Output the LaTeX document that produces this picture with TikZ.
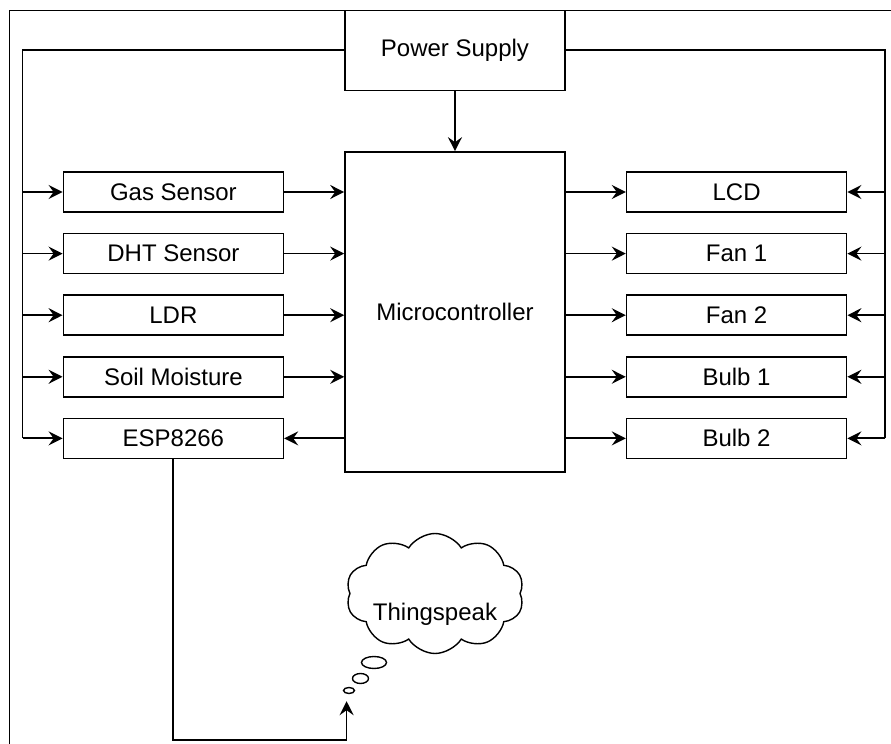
\documentclass[tikz,border=0pt]{standalone}
\usepackage{fontspec}
\setmainfont{Liberation Sans}
\usetikzlibrary{arrows.meta,positioning,shapes.symbols,shapes.geometric}

\begin{document}
\begin{tikzpicture}[node distance=10pt and 30pt,font=\fontsize{12pt}{14pt}\selectfont,unit/.style={draw,line width=.8pt,minimum width=110pt,minimum height=20pt,inner sep=0pt},arrow/.style={-{Stealth[length=7pt,width=7pt,inset=2.5pt]},line width=.9pt},wire/.style={line width=.9pt},bubble/.style={draw,ellipse,line width=.7pt,inner sep=0pt}]
\useasboundingbox (-227.5pt,-216pt) rectangle (218pt,156pt);
\draw[line width=.5pt] (-222.5pt,-216pt) |- (218pt,150.5pt);
% central block and supply
\node[unit,minimum height=160pt] (micro) at (0,0) {Microcontroller};
\node[unit,minimum height=40pt,above=30pt of micro] (power) {Power Supply};
% inputs on the left
\node[unit,below left=10pt and 30pt of micro.north west] (gas) {Gas Sensor};
\node[unit,below=of gas] (dht) {DHT Sensor};
\node[unit,below=of dht] (ldr) {LDR};
\node[unit,below=of ldr] (soil) {Soil Moisture};
\node[unit,below=of soil] (esp) {ESP8266};
% outputs on the right
\node[unit,below right=10pt and 30pt of micro.north east] (lcd) {LCD};
\node[unit,below=of lcd] (fan1) {Fan 1};
\node[unit,below=of fan1] (fan2) {Fan 2};
\node[unit,below=of fan2] (bulb1) {Bulb 1};
\node[unit,below=of bulb1] (bulb2) {Bulb 2};
% cloud with thought bubbles
\node[draw,cloud,cloud puffs=10,cloud puff arc=115,aspect=1.6,line width=.7pt,minimum width=89pt,minimum height=60pt,inner sep=0pt,below=30pt of micro,xshift=-10pt,label={[name=tslabel,yshift=-10.5pt]center:Thingspeak}] (cloud) {};
\node[bubble,minimum width=12.5pt,minimum height=6pt] (bubA) at ([shift={(-30.5pt,-34.5pt)}]cloud.center) {};
\node[bubble,minimum width=8pt,minimum height=5pt] (bubB) at ([shift={(-37.25pt,-42.5pt)}]cloud.center) {};
\node[bubble,minimum width=5.5pt,minimum height=3pt] (bubC) at ([shift={(-43pt,-48.5pt)}]cloud.center) {};
\coordinate[below=3.5pt of bubC.south,xshift=-1.2pt] (tsin);
\coordinate[left=20pt of gas.west] (lbus);
\coordinate[right=19pt of lcd.east] (rbus);
% connectors
\draw[arrow] (power) -- (micro);
\draw[wire] (power.west) -| (lbus |- esp);
\draw[wire] (power.east) -| (rbus |- bulb2);
\foreach \n in {gas,dht,ldr,soil,esp} \draw[arrow] (lbus |- \n) -- (\n.west);
\foreach \n in {gas,dht,ldr,soil} \draw[arrow] (\n.east) -- (micro.west |- \n);
\draw[arrow] (micro.west |- esp) -- (esp.east);
\foreach \n in {lcd,fan1,fan2,bulb1,bulb2} {\draw[arrow] (micro.east |- \n) -- (\n.west); \draw[arrow] (rbus |- \n) -- (\n.east);}
\draw[arrow] (esp.south) -- ++(0,-140.5pt) -| (tsin);
\end{tikzpicture}
\end{document}
